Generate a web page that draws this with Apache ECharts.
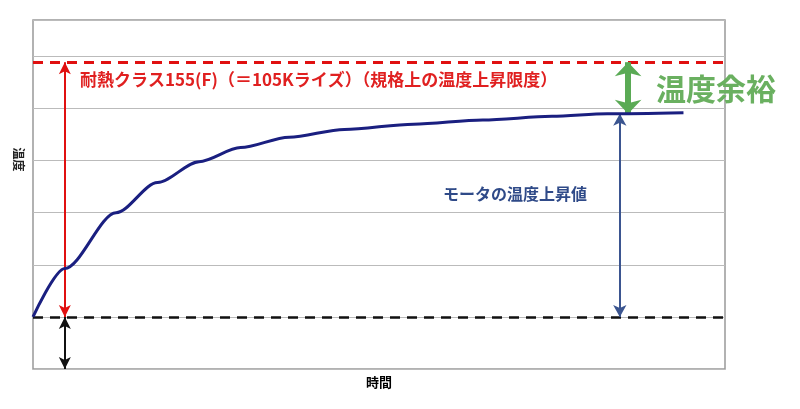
<!DOCTYPE html><html><head><meta charset="utf-8"><script src="https://cdn.jsdelivr.net/npm/echarts@6/dist/echarts.min.js"></script></head><body style="margin:0;background:#fff"><div id="c" style="width:800px;height:409px"></div><script>
const timeX=[0,4.6,12,18,24,30,37,45,55,65,75,83,94];
const tempY=[0,0.93,2.0,2.58,2.98,3.25,3.45,3.6,3.7,3.78,3.85,3.9,3.92];
const limitY=4.89, baseY=0, bottomY=-1, finalY=3.9;
const redArrowX=4.6, blueArrowX=84.8, greenArrowX=86;
const chart=echarts.init(document.getElementById('c'));
const F='"Noto Sans CJK JP",sans-serif';
function arrow(x,y0,y1,color,w,size){return [{coord:[x,y0],symbol:'arrow',symbolSize:size,lineStyle:{color,width:w,type:'solid'}},{coord:[x,y1],symbol:'arrow',symbolSize:size}];}
chart.setOption({
animation:false,
grid:{left:33,right:75,top:20,bottom:40,show:true,borderColor:'#999',borderWidth:1.5},
xAxis:{type:'value',min:0,max:100,axisLine:{show:false},axisTick:{show:false},axisLabel:{show:false},splitLine:{show:false},
 name:'時間',nameLocation:'middle',nameGap:7,nameTextStyle:{fontFamily:F,fontSize:13,fontWeight:'bold',color:'#000'}},
yAxis:{type:'value',min:-1,max:5.7,interval:1,axisLine:{show:false},axisTick:{show:false},axisLabel:{show:false},
 splitLine:{lineStyle:{color:'#bbb',width:1}},
 name:'温度',nameLocation:'middle',nameGap:8,nameRotate:-90,nameTextStyle:{fontFamily:F,fontSize:12,fontWeight:'bold',color:'#222',padding:[0,70,0,0]}},
series:[{type:'line',data:timeX.map((x,i)=>[x,tempY[i]]),smooth:0.3,smoothMonotone:'x',showSymbol:false,lineStyle:{color:'#1a1f80',width:3},z:5,
 markLine:{silent:true,symbol:'none',label:{show:false},animation:false,data:[
  {yAxis:limitY,lineStyle:{color:'#e01010',width:3,type:[10,7]}},
  {yAxis:baseY,lineStyle:{color:'#111',width:2.5,type:[10,7]}},
  arrow(redArrowX,baseY,limitY,'#e01010',2,[9,12]),
  arrow(redArrowX,bottomY,baseY,'#111',2,[9,12]),
  arrow(blueArrowX,baseY,finalY,'#3b5590',2,[10,12]),
  arrow(greenArrowX,finalY,limitY,'#5aaa55',6,[20,14])
 ]}}],
graphic:[
 {type:'text',left:80,top:71,style:{text:'耐熱クラス155(F)（＝105Kライズ）（規格上の温度上昇限度）',font:'bold 17px '+F,fill:'#e02020'}},
 {type:'text',left:443,top:186,style:{text:'モータの温度上昇値',font:'bold 16px '+F,fill:'#2f4a88'}},
 {type:'text',left:656,top:74,style:{text:'温度余裕',font:'bold 30px '+F,fill:'#6ab060',shadowColor:'rgba(0,0,0,0.35)',shadowBlur:4,shadowOffsetX:1,shadowOffsetY:2}}
]});
</script></body></html>
